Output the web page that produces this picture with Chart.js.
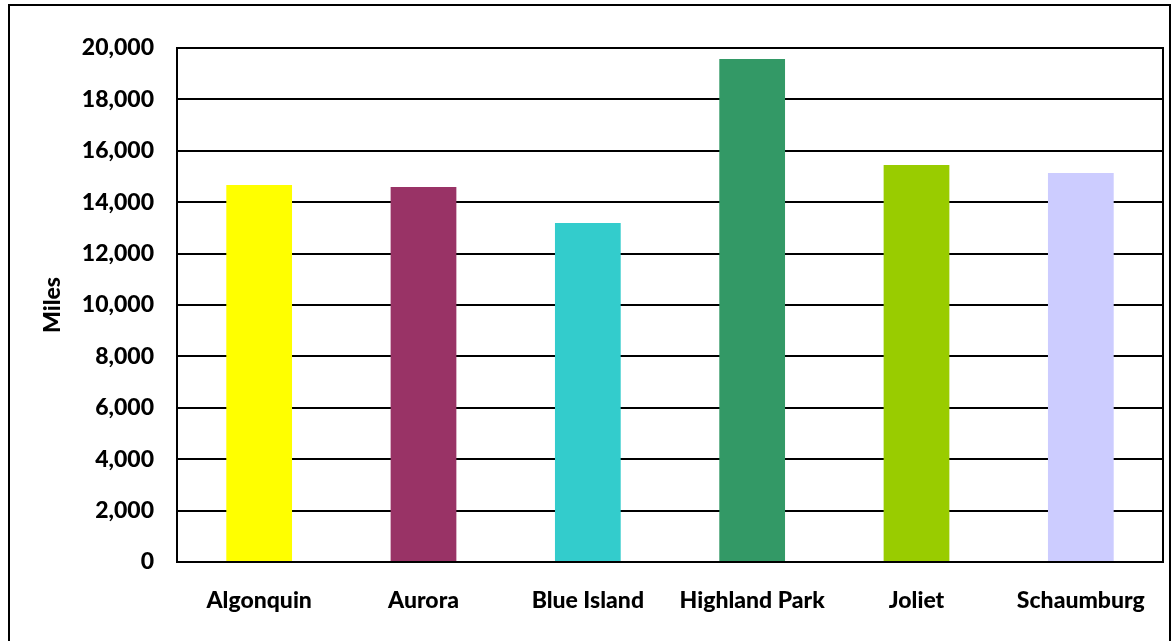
<!DOCTYPE html>
<html>
<head>
<meta charset="utf-8">
<script src="https://cdn.jsdelivr.net/npm/chart.js@4/dist/chart.umd.min.js"></script>
<style>
  html, body { margin: 0; padding: 0; background: #ffffff; }
  #wrap { width: 1173px; height: 641px; position: relative; }
</style>
</head>
<body>
<div id="wrap"><canvas id="c" width="1173" height="641"></canvas></div>
<script>
const categories = ["Algonquin", "Aurora", "Blue Island", "Highland Park", "Joliet", "Schaumburg"];
const miles = [14670, 14590, 13190, 19570, 15450, 15140];
const barColors = ["#FFFF00", "#993366", "#33CCCC", "#339966", "#99CC00", "#CCCCFF"];
const yTitle = "Miles";

const frame = {
  id: 'frame',
  beforeDraw(chart) {
    const ctx = chart.ctx;
    ctx.save();
    ctx.fillStyle = '#ffffff';
    ctx.fillRect(0, 0, chart.width, chart.height);
    ctx.strokeStyle = '#000000';
    ctx.lineWidth = 2;
    ctx.strokeRect(9, 5, 1161, 700);
    ctx.restore();
  },
  afterDatasetsDraw(chart) {
    const a = chart.chartArea;
    const ctx = chart.ctx;
    ctx.save();
    ctx.strokeStyle = '#000000';
    ctx.lineWidth = 2;
    ctx.strokeRect(a.left, a.top, a.right - a.left, a.bottom - a.top);
    ctx.restore();
  }
};

const font = "Lato, 'Open Sans', 'Liberation Sans', sans-serif";

new Chart(document.getElementById('c'), {
  type: 'bar',
  data: {
    labels: categories,
    datasets: [{
      data: miles,
      backgroundColor: barColors,
      borderWidth: 0,
      barPercentage: 0.4,
      categoryPercentage: 1.0
    }]
  },
  options: {
    responsive: false,
    animation: false,
    devicePixelRatio: 1,
    layout: { padding: { left: 30, top: 48, right: 10, bottom: 0 } },
    plugins: { legend: { display: false }, tooltip: { enabled: false }, title: { display: false } },
    scales: {
      x: {
        grid: { display: false, drawTicks: false },
        border: { display: false },
        ticks: { color: '#000', padding: 25, maxRotation: 0, font: { family: font, size: 23, weight: '900' } },
        afterFit(scale) { scale.height = 79; }
      },
      y: {
        min: 0, max: 20000,
        grid: { color: '#000', lineWidth: 2, drawTicks: false },
        border: { display: false },
        ticks: {
          stepSize: 2000, color: '#000', padding: 23,
          font: { family: font, size: 23, weight: '900' },
          callback: v => v.toLocaleString('en-US')
        },
        title: { display: true, text: yTitle, color: '#000', padding: { top: 9, bottom: 0 },
                 font: { family: font, size: 23, weight: '900' } },
        afterFit(scale) { scale.width = 147; }
      }
    }
  },
  plugins: [frame]
});
</script>
</body>
</html>
